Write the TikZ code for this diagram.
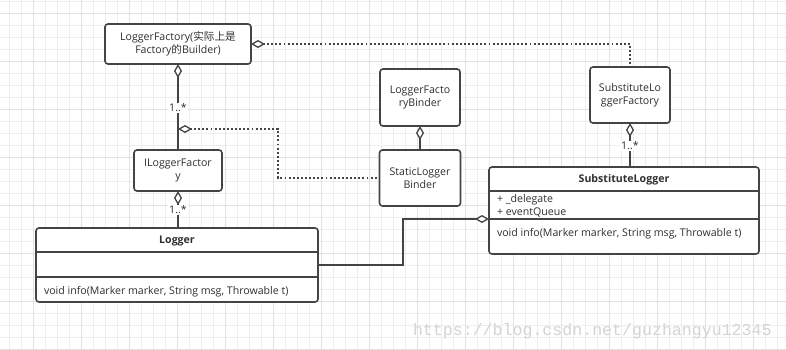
\documentclass[tikz,border=0pt]{standalone}
\usepackage{fontspec}
\setmainfont{Open Sans}
\newfontfamily\cjk{Noto Sans CJK SC}
\newfontfamily\wmfont{Liberation Mono}
\usetikzlibrary{arrows.meta}
\definecolor{edgec}{HTML}{444444}
\definecolor{txtc}{HTML}{2f2f2f}
\definecolor{gridminor}{HTML}{EEEEEE}
\definecolor{gridmajor}{HTML}{E2E2E2}
\definecolor{wmc}{HTML}{D4D4D4}
\begin{document}
\begin{tikzpicture}[x=1pt,y=-1pt,
  every node/.style={inner sep=0pt, outer sep=0pt},
  txtfont/.style={font=\fontsize{10.6}{13.5}\selectfont},
  box/.style={draw=edgec, line width=1.6pt, rounded corners=3pt, fill=white, text=txtc, align=center, txtfont},
  clstext/.style={text=txtc, txtfont},
  clshead/.style={text=txtc, font=\fontsize{10.6}{13.5}\selectfont\bfseries},
  sep/.style={draw=edgec, line width=1.6pt},
  conn/.style={draw=edgec, line width=1.6pt},
  dotconn/.style={draw=edgec, line width=1.9pt, dash pattern=on 1.9pt off 2.2pt},
  aggstart/.style={{Diamond[fill=white,length=14pt,width=8pt,line width=1.3pt,sep=0pt]}-},
  aggend/.style={-{Diamond[fill=white,length=14pt,width=8pt,line width=1.3pt,sep=0pt]}},
  mult/.style={text=txtc, txtfont, fill=white, inner sep=0.8pt}
]
\useasboundingbox (0,0) rectangle (786,349);
\fill[white] (0,0) rectangle (786,349);
% grid
\foreach \i in {0,...,65} {\draw[gridminor, line width=0.9pt] (9.4+12*\i,0) -- (9.4+12*\i,349);}
\foreach \i in {0,...,29} {\draw[gridminor, line width=0.9pt] (0,1.4+12*\i) -- (786,1.4+12*\i);}
\foreach \i in {0,...,16} {\draw[gridmajor, line width=0.9pt] (33.4+48*\i,0) -- (33.4+48*\i,349);}
\foreach \i in {0,...,7} {\draw[gridmajor, line width=0.9pt] (0,13.4+48*\i) -- (786,13.4+48*\i);}

% simple boxes
\node[box, minimum width=146pt, minimum height=40pt] (LF) at (178,44) {LoggerFactory({\cjk 实际上是}\\Factory{\cjk 的}Builder)};
\node[box, minimum width=88pt, minimum height=41pt] (ILF) at (178,170.5) {ILoggerFactor\\y};
\node[box, minimum width=80pt, minimum height=57pt] (LFB) at (420,97.5) {LoggerFacto\\ryBinder};
\node[box, minimum width=81pt, minimum height=56pt] (SLB) at (420,178) {StaticLogger\\Binder};
\node[box, minimum width=80pt, minimum height=56pt] (SLF) at (630,95) {SubstituteLo\\ggerFactory};

% Logger class
\node[box, minimum width=282pt, minimum height=74pt] (L) at (177,265) {};
\node[clshead] (Lh) at (177,241) {Logger};
\draw[sep] (L.west |- 0,252) -- (L.east |- 0,252);
\draw[sep] (L.west |- 0,277) -- (L.east |- 0,277);
\node[clstext, anchor=west] (Lm) at (44,291.5) {void info(Marker marker, String msg, Throwable t)};

% SubstituteLogger class
\node[box, minimum width=270pt, minimum height=87pt] (SL) at (624,210.5) {};
\node[clshead] (SLh) at (624,180) {SubstituteLogger};
\draw[sep] (SL.west |- 0,191) -- (SL.east |- 0,191);
\draw[sep] (SL.west |- 0,219) -- (SL.east |- 0,219);
\node[clstext, anchor=west] (SLa1) at (497,199.5) {+ \_delegate};
\node[clstext, anchor=west] (SLa2) at (497,212.5) {+ eventQueue};
\node[clstext, anchor=west] (SLm) at (497,233.5) {void info(Marker marker, String msg, Throwable t)};

% connectors
\draw[conn, aggstart] (LF.south) -- (ILF.north);
\draw[conn, aggstart] (ILF.south) -- (ILF.south |- L.north);
\draw[conn, aggstart] (LFB.south) -- (SLB.north);
\draw[conn, aggstart] (SLF.south) -- (SLF.south |- SL.north);
\draw[conn, aggend] (L.east) -- (403,265) |- (SL.west |- 0,219);
\draw[dotconn, aggstart] (LF.east) -| (SLF.north);
\coordinate (J) at (178,129);
\draw[dotconn, aggstart] (J) -- (278,129) |- (SLB.west);

% multiplicities
\node[mult] (m1) at (178,108) {1..*};
\node[mult] (m2) at (178,210) {1..*};
\node[mult] (m3) at (630,146) {1..*};

% watermark
\node[anchor=base west, text=wmc, font=\wmfont\fontsize{16.6}{18}\selectfont] (wm) at (413,335) {https://blog.csdn.net/guzhangyu12345};
\end{tikzpicture}
\end{document}
